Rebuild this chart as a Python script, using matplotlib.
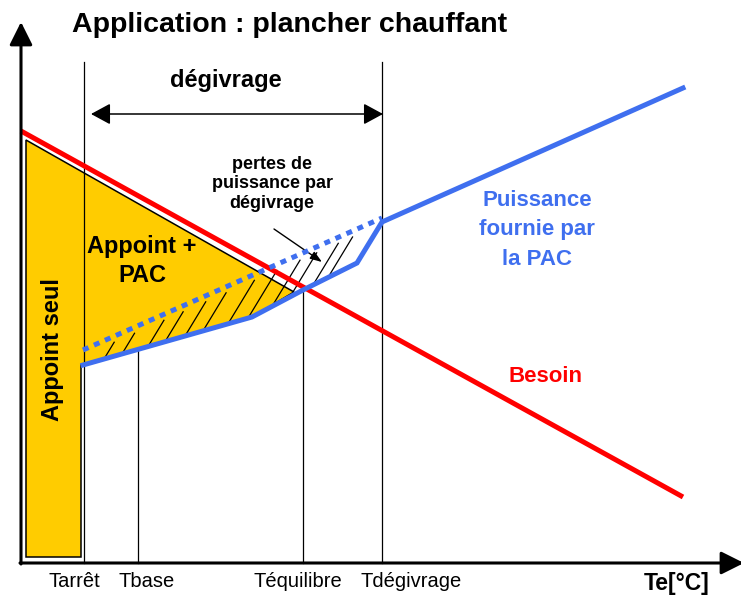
import numpy as np
import matplotlib.pyplot as plt
from matplotlib.patches import Polygon

# schema : abscisse = Te, ordonnee = puissance (unites du dessin, y vers le bas)
temp_names = ['Tarrêt', 'Tbase', 'Téquilibre', 'Tdégivrage']
temp_x = [84, 138, 303, 382]
temp_label_x = [74, 147, 298, 411]

besoin_x = [21, 683]
besoin_y = [131, 497]

pac_x = [83, 252, 303, 357, 382, 683]
pac_y = [365, 317, 290, 263, 222, 88]

pac_sans_degivrage_x = [83, 382]
pac_sans_degivrage_y = [350, 218]

appoint_x = [26, 294, 252, 83, 81, 81, 26]
appoint_y = [140, 292, 317, 365, 365, 557, 557]

hachures_x = [104, 122, 148, 165, 185, 203, 228, 248, 272, 290, 313, 328]

BLEU = '#3F6FEF'
ROUGE = '#FF0000'
JAUNE = '#FFCC00'
BOLD = dict(family=['Liberation Sans', 'DejaVu Sans'], fontweight='bold')
NARROW = dict(family=['Liberation Sans Narrow', 'Liberation Sans', 'DejaVu Sans'])

fig = plt.figure(figsize=(7.41, 5.95), dpi=100)
ax = fig.add_axes([0, 0, 1, 1])
ax.set_xlim(0, 741)
ax.set_ylim(595, 0)
ax.axis('off')

# zone jaune appoint
ax.add_patch(Polygon(np.column_stack([appoint_x, appoint_y]), closed=True,
                     facecolor=JAUNE, edgecolor='black', lw=1.1, zorder=1))

# lignes verticales des temperatures
y_axe = 563
for name, x in zip(temp_names, temp_x):
    if name in ('Tarrêt', 'Tdégivrage'):
        top = 62
    else:
        top = np.interp(x, pac_x, pac_y)
    ax.plot([x, x], [top, y_axe], color='black', lw=0.9, zorder=1.5)

# hachures (pertes par degivrage)
m = (pac_sans_degivrage_y[1] - pac_sans_degivrage_y[0]) / (pac_sans_degivrage_x[1] - pac_sans_degivrage_x[0])
pente = -1.65
for x0 in hachures_x:
    y0 = np.interp(x0, pac_x, pac_y)
    yd = pac_sans_degivrage_y[0] + m * (x0 - pac_sans_degivrage_x[0])
    t = (yd + 6 - y0) / (pente - m)
    ax.plot([x0, x0 + t], [y0, y0 + pente * t], color='black', lw=0.9, zorder=2)

# courbes
ax.plot(besoin_x, besoin_y, color=ROUGE, lw=3.6, solid_capstyle='butt', zorder=3)
ax.plot(pac_x, pac_y, color=BLEU, lw=3.6, solid_joinstyle='miter', zorder=4)
ax.plot(pac_sans_degivrage_x, pac_sans_degivrage_y, color=BLEU, lw=3.6,
        linestyle=(0, (1.2, 1.2)), dash_capstyle='butt', zorder=4)

# axes
fleche_axe = dict(arrowstyle='-|>,head_length=1.4,head_width=0.7', lw=2.2,
                  color='black', shrinkA=0, shrinkB=0)
ax.annotate('', xy=(21, 22), xytext=(21, y_axe + 1), arrowprops=fleche_axe,
            annotation_clip=False, zorder=5)
ax.annotate('', xy=(744, y_axe), xytext=(20, y_axe), arrowprops=fleche_axe,
            annotation_clip=False, zorder=5)

# fleche degivrage
ax.annotate('', xy=(383, 114), xytext=(91, 114),
            arrowprops=dict(arrowstyle='<|-|>,head_length=1.2,head_width=0.65', lw=1.1,
                            color='black', shrinkA=0, shrinkB=0))
ax.text(226, 87, 'dégivrage', fontsize=17, ha='center', va='baseline', **BOLD)

# annotation pertes
ax.text(272, 184, 'pertes de\npuissance par\ndégivrage', fontsize=13, ha='center',
        va='center', multialignment='center', linespacing=1.2, **BOLD)
ax.annotate('', xy=(322, 262), xytext=(274, 229),
            arrowprops=dict(arrowstyle='-|>,head_length=0.7,head_width=0.25', lw=1.0,
                            color='black', shrinkA=0, shrinkB=0))

# textes
ax.text(72, 32, 'Application : plancher chauffant', fontsize=20.5, ha='left',
        va='baseline', **BOLD)
ax.text(142, 261, 'Appoint +\nPAC', fontsize=17, ha='center', va='center',
        multialignment='center', linespacing=1.35, **BOLD)
ax.text(52, 350, 'Appoint seul', fontsize=17, ha='center', va='center',
        rotation=90, **BOLD)
ax.text(537, 230, 'Puissance\nfournie par\nla PAC', fontsize=16, ha='center', va='center',
        multialignment='center', color=BLEU, linespacing=1.55, **BOLD)
ax.text(545, 377, 'Besoin', fontsize=16, ha='center', va='center', color=ROUGE, **BOLD)

for name, lx in zip(temp_names, temp_label_x):
    ax.text(lx, 587, name, fontsize=14.5, ha='center', va='baseline', **NARROW)
ax.text(677, 590, 'Te[°C]', fontsize=16.5, ha='center', va='baseline', **BOLD)

fig.savefig('out.png', dpi=100)
